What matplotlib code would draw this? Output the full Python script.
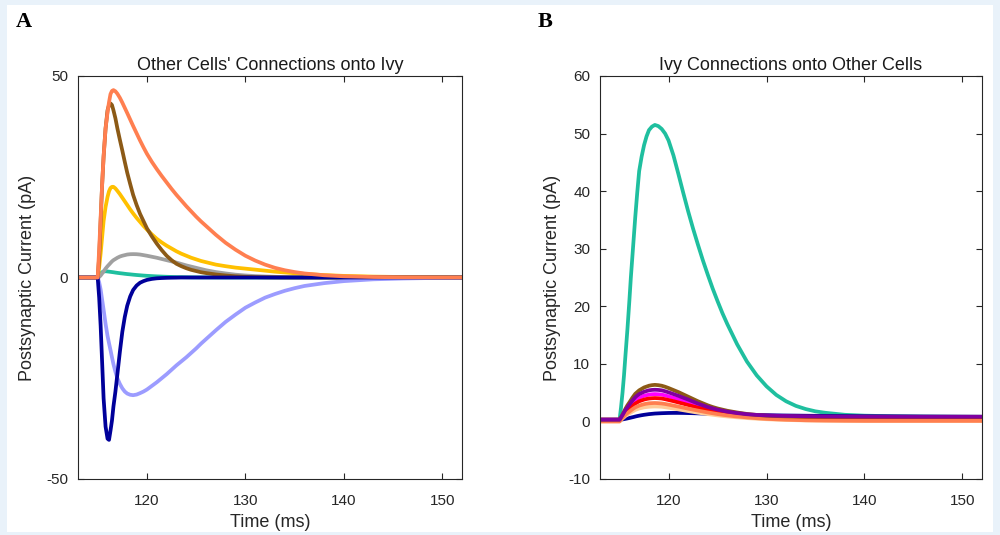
import matplotlib
matplotlib.use("Agg")
import matplotlib.pyplot as plt
from matplotlib.patches import Rectangle

plt.rcParams['font.family'] = ['Liberation Sans', 'DejaVu Sans']
plt.rcParams['axes.unicode_minus'] = False

# shared time samples (ms)
t = [113, 115.0, 115.15, 115.3, 115.45, 115.6, 115.8, 116.0, 116.15, 116.3, 116.45, 116.6, 116.8,
     117.0, 117.25, 117.5, 117.75, 118.0, 118.3, 118.6, 118.95, 119.3, 119.65, 120, 120.5, 121,
     121.5, 122, 122.5, 123, 123.5, 124, 124.5, 125, 125.5, 126, 127, 128, 129,
     130, 131, 132, 133, 134, 135, 136, 138, 140, 143, 146, 149, 152]

# ---- Panel A: Other cells' connections onto Ivy (pA) ----
a_orange = [0, 0, 7, 15, 23, 30, 37, 41, 43.5, 45.5, 46.3, 46.5, 46.2,
            45.6, 44.6, 43.4, 42.1, 40.8, 39.2, 37.6, 35.8, 34.0, 32.3, 30.7, 28.7, 26.9,
            25.2, 23.6, 22.0, 20.5, 19.1, 17.7, 16.4, 15.1, 13.9, 12.8, 10.6, 8.6, 6.9,
            5.4, 4.2, 3.2, 2.4, 1.8, 1.35, 1.0, 0.55, 0.3, 0.12, 0.05, 0.02, 0.01]
a_brown = [0, 0, 5, 14, 23, 30, 37, 41.5, 42.8, 43.2, 42.8, 41.5, 39.5,
           37, 34.2, 31.5, 28.7, 26, 23.2, 20.5, 18, 15.8, 14, 12.2, 10.2, 8.4,
           6.8, 5.4, 4.3, 3.4, 2.8, 2.3, 1.9, 1.6, 1.3, 1.1, 0.75, 0.5, 0.3,
           0.18, 0.1, 0.05, 0.02, 0, 0, 0, 0, 0, 0, 0, 0, 0]
a_yellow = [0, 0, 2.5, 6, 10, 14, 17.5, 20, 21.4, 22.2, 22.5, 22.5, 22.1,
            21.5, 20.7, 19.8, 18.9, 18, 16.9, 15.9, 14.8, 13.8, 12.8, 11.9, 10.7, 9.6,
            8.7, 7.9, 7.2, 6.5, 5.9, 5.4, 4.9, 4.5, 4.1, 3.8, 3.2, 2.8, 2.45,
            2.2, 1.95, 1.7, 1.45, 1.25, 1.05, 0.9, 0.6, 0.4, 0.22, 0.12, 0.06, 0.03]
a_gray = [0, 0, 0.1, 0.5, 1.0, 1.5, 2.2, 2.8, 3.2, 3.6, 4.0, 4.3, 4.6,
          4.9, 5.2, 5.4, 5.55, 5.7, 5.78, 5.8, 5.78, 5.7, 5.55, 5.4, 5.15, 4.9,
          4.6, 4.3, 4.0, 3.7, 3.35, 3.0, 2.7, 2.4, 2.1, 1.8, 1.35, 1.0, 0.7,
          0.5, 0.35, 0.25, 0.17, 0.1, 0.07, 0.05, 0.02, 0, 0, 0, 0, 0]
a_teal = [0, 0, 0.6, 1.0, 1.3, 1.5, 1.55, 1.5, 1.45, 1.4, 1.35, 1.3, 1.22,
          1.15, 1.07, 1.0, 0.92, 0.85, 0.78, 0.7, 0.62, 0.55, 0.48, 0.42, 0.35, 0.28,
          0.23, 0.18, 0.14, 0.1, 0.08, 0.06, 0.04, 0.03, 0.02, 0.02, 0.01, 0, 0,
          0, 0, 0, 0, 0, 0, 0, 0, 0, 0, 0, 0, 0]
a_lightblue = [0, 0, -1.2, -3, -5.5, -8, -11.5, -14.5, -16.3, -18, -19.8, -21.5, -23.4,
               -25, -26.4, -27.5, -28.3, -28.8, -29.1, -29.2, -29.05, -28.7, -28.3, -27.8, -26.9, -26,
               -25, -24, -22.9, -21.8, -20.8, -19.8, -18.7, -17.6, -16.4, -15.3, -13.1, -11.0, -9.2,
               -7.5, -6.2, -5.0, -4.1, -3.3, -2.65, -2.1, -1.4, -0.9, -0.45, -0.25, -0.12, -0.06]
a_navy = [0, 0, -5, -12, -21, -30, -37, -40, -40.3, -38, -35.5, -32, -28.3,
          -24, -18.5, -13.5, -9.8, -7, -4.7, -3.1, -2.0, -1.3, -0.9, -0.6, -0.35, -0.2,
          -0.13, -0.08, -0.05, -0.03, 0, 0, 0, 0, 0, 0, 0, 0, 0,
          0, 0, 0, 0, 0, 0, 0, 0, 0, 0, 0, 0, 0]

# ---- Panel B: Ivy connections onto other cells (pA) ----
b_teal = [0.3, 0.3, 2.5, 5, 8, 11.5, 16, 21, 25, 28.5, 32, 35.5, 39.7,
          43.5, 46, 48, 49.5, 50.6, 51.2, 51.5, 51.3, 50.8, 50, 48.8, 46.2, 43,
          39.7, 36.5, 33.5, 30.7, 28.0, 25.5, 23.1, 20.9, 18.8, 16.9, 13.4, 10.4, 8.0,
          6.1, 4.6, 3.5, 2.7, 2.15, 1.75, 1.5, 1.15, 1.0, 0.9, 0.85, 0.82, 0.8]
b_navy = [0.3, 0.3, 0.32, 0.35, 0.4, 0.45, 0.52, 0.6, 0.66, 0.72, 0.78, 0.85, 0.93,
          1.0, 1.08, 1.15, 1.21, 1.27, 1.32, 1.37, 1.4, 1.43, 1.45, 1.47, 1.48, 1.48,
          1.47, 1.45, 1.43, 1.4, 1.37, 1.33, 1.3, 1.27, 1.24, 1.22, 1.18, 1.15, 1.11,
          1.08, 1.05, 1.03, 1.01, 0.99, 0.97, 0.96, 0.93, 0.9, 0.87, 0.84, 0.82, 0.8]
b_peach = [0, 0, 0.25, 0.5, 0.72, 0.95, 1.18, 1.4, 1.55, 1.7, 1.85, 2.0, 2.12,
           2.25, 2.35, 2.45, 2.5, 2.55, 2.58, 2.6, 2.58, 2.55, 2.47, 2.38, 2.24, 2.1,
           1.95, 1.8, 1.66, 1.52, 1.4, 1.27, 1.16, 1.05, 0.95, 0.86, 0.71, 0.58, 0.47,
           0.38, 0.31, 0.25, 0.21, 0.17, 0.15, 0.13, 0.1, 0.08, 0.08, 0.08, 0.08, 0.08]
b_magenta = [0.3, 0.3, 0.65, 1.0, 1.4, 1.8, 2.2, 2.6, 2.9, 3.15, 3.4, 3.65, 3.9,
             4.1, 4.28, 4.45, 4.56, 4.65, 4.72, 4.75, 4.72, 4.65, 4.52, 4.35, 4.1, 3.85,
             3.58, 3.3, 3.02, 2.75, 2.5, 2.25, 2.05, 1.85, 1.7, 1.55, 1.33, 1.15, 1.02,
             0.92, 0.85, 0.8, 0.77, 0.75, 0.73, 0.72, 0.7, 0.7, 0.7, 0.7, 0.7, 0.7]
b_red = [0.3, 0.3, 0.6, 0.9, 1.22, 1.55, 1.88, 2.2, 2.45, 2.7, 2.9, 3.1, 3.3,
         3.5, 3.65, 3.8, 3.9, 3.98, 4.03, 4.06, 4.03, 3.98, 3.86, 3.72, 3.52, 3.3,
         3.08, 2.85, 2.62, 2.4, 2.2, 2.0, 1.82, 1.65, 1.52, 1.4, 1.2, 1.05, 0.94,
         0.85, 0.79, 0.75, 0.72, 0.7, 0.69, 0.68, 0.67, 0.66, 0.66, 0.66, 0.66, 0.66]
b_coral = [0, 0, 0.3, 0.6, 0.9, 1.15, 1.45, 1.7, 1.9, 2.1, 2.28, 2.45, 2.6,
           2.75, 2.88, 3.0, 3.08, 3.15, 3.18, 3.2, 3.17, 3.12, 3.03, 2.92, 2.75, 2.58,
           2.4, 2.22, 2.05, 1.88, 1.72, 1.56, 1.42, 1.28, 1.16, 1.05, 0.86, 0.7, 0.56,
           0.45, 0.37, 0.3, 0.25, 0.2, 0.17, 0.15, 0.12, 0.1, 0.1, 0.1, 0.1, 0.1]
b_brown = [0.3, 0.3, 0.75, 1.2, 1.7, 2.2, 2.8, 3.3, 3.7, 4.1, 4.45, 4.8, 5.1,
           5.4, 5.65, 5.9, 6.05, 6.2, 6.3, 6.35, 6.3, 6.2, 6.02, 5.8, 5.45, 5.1,
           4.7, 4.3, 3.9, 3.5, 3.15, 2.8, 2.5, 2.25, 2.05, 1.85, 1.55, 1.3, 1.13,
           1.0, 0.93, 0.88, 0.85, 0.82, 0.81, 0.8, 0.8, 0.8, 0.8, 0.8, 0.8, 0.8]
b_purple = [0.3, 0.3, 0.7, 1.1, 1.55, 2.0, 2.45, 2.9, 3.25, 3.6, 3.9, 4.2, 4.5,
            4.75, 4.95, 5.15, 5.28, 5.4, 5.47, 5.5, 5.47, 5.4, 5.24, 5.05, 4.75, 4.45,
            4.12, 3.8, 3.45, 3.1, 2.8, 2.5, 2.27, 2.05, 1.87, 1.7, 1.45, 1.25, 1.13,
            1.05, 0.99, 0.95, 0.92, 0.9, 0.88, 0.87, 0.85, 0.84, 0.83, 0.82, 0.82, 0.82]

series_a = [(a_teal, '#1FBF9F'), (a_gray, '#A0A0A0'), (a_yellow, '#FFC000'),
            (a_brown, '#8C5A16'), (a_lightblue, '#9C9CFF'), (a_navy, '#00009A'),
            (a_orange, '#FF7F50')]
series_b = [(b_teal, '#1FBF9F'), (b_navy, '#00009A'), (b_peach, '#FFCC99'),
            (b_magenta, '#FF00FF'), (b_red, '#FF0000'), (b_coral, '#FF7F50'),
            (b_brown, '#8C5A16'), (b_purple, '#7F00A0')]

xticks = [120, 130, 140, 150]
yticks_a = [-50, 0, 50]
yticks_b = [-10, 0, 10, 20, 30, 40, 50, 60]

fig = plt.figure(figsize=(10, 5.35), dpi=100, facecolor='#E9F2FA')
fig.patches.append(Rectangle((7 / 1000, 1 - 532 / 535), 986 / 1000, 527 / 535,
                             transform=fig.transFigure, facecolor='white',
                             edgecolor='none', zorder=-10))

axA = fig.add_axes([0.078, 1 - 479 / 535, 0.384, 403 / 535])
axB = fig.add_axes([0.600, 1 - 479 / 535, 0.382, 403 / 535])

spine_c = '#262626'
for ax, series, yt, ylim, title, lx in [
        (axA, series_a, yticks_a, (-50, 50), "Other Cells' Connections onto Ivy", -0.109),
        (axB, series_b, yticks_b, (-10, 60), "Ivy Connections onto Other Cells", -0.102)]:
    for vals, col in series:
        ax.plot(t, vals, color=col, lw=2.7, solid_capstyle='round', solid_joinstyle='round')
    ax.set_xlim(113, 152)
    ax.set_ylim(*ylim)
    ax.set_xticks(xticks)
    ax.set_yticks(yt)
    ax.tick_params(direction='in', length=4, width=0.8, color=spine_c,
                   top=True, right=True, labelsize=11, labelcolor='#262626')
    ax.tick_params(axis='x', pad=11)
    ax.tick_params(axis='y', pad=7)
    for s in ax.spines.values():
        s.set_color(spine_c)
        s.set_linewidth(0.8)
    ax.set_title(title, fontsize=13, color='#1a1a1a', pad=4)
    ax.set_xlabel('Time (ms)', fontsize=13, color='#262626')
    ax.set_ylabel('Postsynaptic Current (pA)', fontsize=13, color='#262626')
    ax.xaxis.set_label_coords(0.5, -0.088)
    ax.yaxis.set_label_coords(lx, 0.5)

fig.text(0.024, 1 - 22 / 535, 'A', fontsize=16, fontweight='bold',
         family='Liberation Serif', ha='center', va='center')
fig.text(0.545, 1 - 22 / 535, 'B', fontsize=16, fontweight='bold',
         family='Liberation Serif', ha='center', va='center')

fig.savefig('out.png', dpi=100, facecolor=fig.get_facecolor())
